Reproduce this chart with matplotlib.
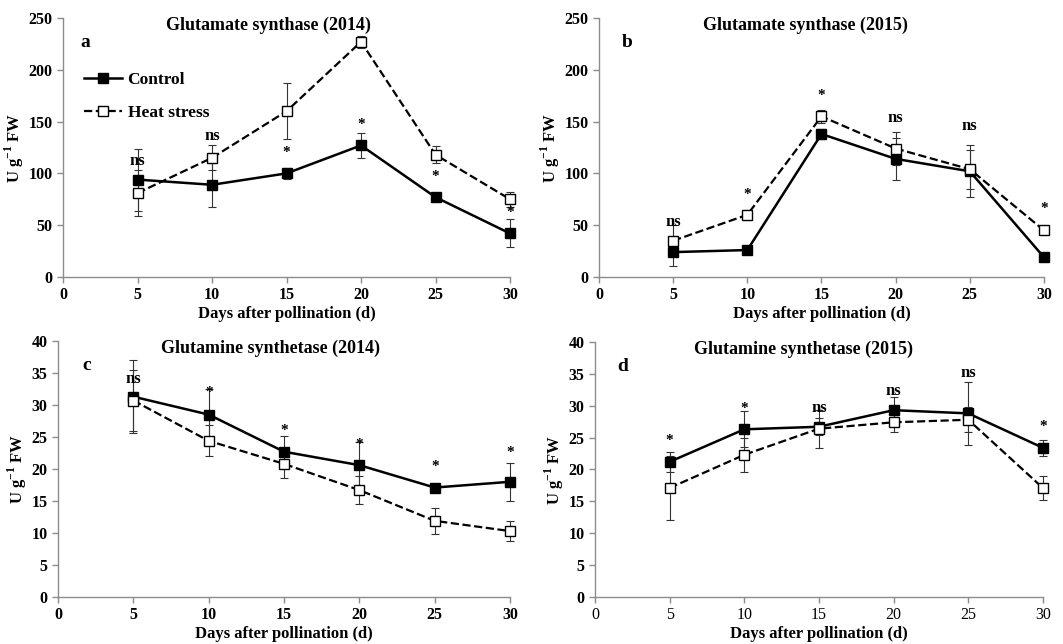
import matplotlib
matplotlib.use("Agg")
import matplotlib.pyplot as plt

plt.rcParams["font.family"] = ["Liberation Serif", "DejaVu Serif"]
plt.rcParams["mathtext.fontset"] = "custom"
plt.rcParams["mathtext.rm"] = "Liberation Serif:bold"
plt.rcParams["mathtext.bf"] = "Liberation Serif:bold"

days = [5, 10, 15, 20, 25, 30]

# Glutamate synthase 2014
gs14_ctrl = [94, 89, 100, 127, 77, 42]
gs14_ctrl_err = [30, 21, 5, 12, 2, 13.5]
gs14_heat = [81, 115, 160, 227, 118, 75]
gs14_heat_err = [22, 12, 27, 6, 8, 7]
gs14_marks = ["ns", "ns", "*", "*", "*", "*"]
gs14_mark_y = [112, 136, 120, 147, 97, 62]

# Glutamate synthase 2015
gs15_ctrl = [24, 26, 138, 114, 102, 19]
gs15_ctrl_err = [13, 2, 5, 20, 25, 4]
gs15_heat = [35, 60, 155, 124, 104, 45]
gs15_heat_err = [15, 5, 6, 16, 19, 3]
gs15_marks = ["ns", "*", "*", "ns", "ns", "*"]
gs15_mark_y = [53, 80, 175, 153, 146, 66]

# Glutamine synthetase 2014
gln14_ctrl = [31.3, 28.5, 22.7, 20.6, 17.1, 18.0]
gln14_ctrl_err = [5.7, 4.0, 2.5, 3.6, 0.3, 3.0]
gln14_heat = [30.7, 24.4, 20.8, 16.7, 11.9, 10.3]
gln14_heat_err = [4.7, 2.4, 2.2, 2.2, 2.0, 1.5]
gln14_marks = ["ns", "*", "*", "*", "*", "*"]
gln14_mark_y = [34.1, 31.9, 26.0, 23.9, 20.4, 22.5]

# Glutamine synthetase 2015
gln15_ctrl = [21.2, 26.3, 26.7, 29.3, 28.8, 23.4]
gln15_ctrl_err = [1.6, 2.8, 1.3, 2.0, 4.9, 1.3]
gln15_heat = [17.1, 22.3, 26.4, 27.4, 27.8, 17.1]
gln15_heat_err = [5.0, 2.7, 3.0, 1.5, 2.0, 1.9]
gln15_marks = ["*", "*", "ns", "ns", "ns", "*"]
gln15_mark_y = [24.6, 29.6, 29.6, 32.3, 35.2, 26.8]

panels = [
    dict(pos=[0.0593, 0.5699, 0.4205, 0.4022], title="Glutamate synthase (2014)", tag="a",
         ctrl=gs14_ctrl, ctrl_err=gs14_ctrl_err, heat=gs14_heat, heat_err=gs14_heat_err,
         marks=gs14_marks, mark_y=gs14_mark_y, ymax=250, ystep=50, tag_x=0.038, title_x=0.46),
    dict(pos=[0.5635, 0.5699, 0.4186, 0.4022], title="Glutamate synthase (2015)", tag="b",
         ctrl=gs15_ctrl, ctrl_err=gs15_ctrl_err, heat=gs15_heat, heat_err=gs15_heat_err,
         marks=gs15_marks, mark_y=gs15_mark_y, ymax=250, ystep=50, tag_x=0.052, title_x=0.465),
    dict(pos=[0.0546, 0.0730, 0.4252, 0.3975], title="Glutamine synthetase (2014)", tag="c",
         ctrl=gln14_ctrl, ctrl_err=gln14_ctrl_err, heat=gln14_heat, heat_err=gln14_heat_err,
         marks=gln14_marks, mark_y=gln14_mark_y, ymax=40, ystep=5, tag_x=0.053, title_x=0.47),
    dict(pos=[0.5597, 0.0730, 0.4214, 0.3960], title="Glutamine synthetase (2015)", tag="d",
         ctrl=gln15_ctrl, ctrl_err=gln15_ctrl_err, heat=gln15_heat, heat_err=gln15_heat_err,
         marks=gln15_marks, mark_y=gln15_mark_y, ymax=40, ystep=5, tag_x=0.049, title_x=0.465),
]

fig = plt.figure(figsize=(10.63, 6.44), dpi=100)

for i, p in enumerate(panels):
    ax = fig.add_axes(p["pos"])

    # error bars first, lines with markers on top
    for vals, errs in [(p["ctrl"], p["ctrl_err"]), (p["heat"], p["heat_err"])]:
        eb = ax.errorbar(days, vals, yerr=errs, fmt="none", ecolor="#333333",
                         elinewidth=0.8, capsize=3, capthick=0.8, zorder=2)
        for art in eb.get_children():
            art.set_clip_on(False)

    ax.plot(days, p["ctrl"], color="black", linestyle="-", linewidth=1.8,
            marker="s", markersize=7, markerfacecolor="black",
            label="Control", zorder=3, clip_on=False)
    ax.plot(days, p["heat"], color="black", linestyle="--", linewidth=1.6,
            marker="s", markersize=7, markerfacecolor="white", markeredgewidth=1.0,
            label="Heat stress", zorder=4, clip_on=False)

    for d, m, y in zip(days, p["marks"], p["mark_y"]):
        ax.text(d, y, m, ha="center", va="center", fontweight="bold",
                fontsize=12 if m == "ns" else 11)

    ax.set_xlim(0, 30)
    ax.set_ylim(0, p["ymax"])
    ax.set_xticks(range(0, 31, 5))
    ax.set_yticks(range(0, p["ymax"] + 1, p["ystep"]))
    for s in ["top", "right"]:
        ax.spines[s].set_visible(False)
    for s in ["left", "bottom"]:
        ax.spines[s].set_color("#8c8c8c")
        ax.spines[s].set_linewidth(1.0)
    ax.tick_params(colors="#8c8c8c", labelcolor="black", length=4, width=1.0,
                   labelsize=11.5)
    for lab in ax.get_yticklabels():
        lab.set_fontweight("bold")
    if i != 3:
        for lab in ax.get_xticklabels():
            lab.set_fontweight("bold")
    ax.set_xlabel("Days after pollination (d)", fontsize=12, fontweight="bold", labelpad=2)
    ax.set_ylabel(r"U g$^{-1}$ FW", fontsize=12, fontweight="bold", labelpad=2)
    ax.text(p["title_x"], 0.97, p["title"], transform=ax.transAxes, ha="center",
            va="center", fontsize=13, fontweight="bold")
    ax.text(p["tag_x"], 0.905, p["tag"], transform=ax.transAxes, ha="left",
            va="center", fontsize=14, fontweight="bold")

    if i == 0:
        ax.legend(loc="upper left", bbox_to_anchor=(0.02, 0.84), frameon=False,
                  prop={"weight": "bold", "size": 12.5}, handlelength=2.2,
                  handletextpad=0.3, labelspacing=1.0, borderpad=0.2)

fig.savefig("out.png", dpi=100)
